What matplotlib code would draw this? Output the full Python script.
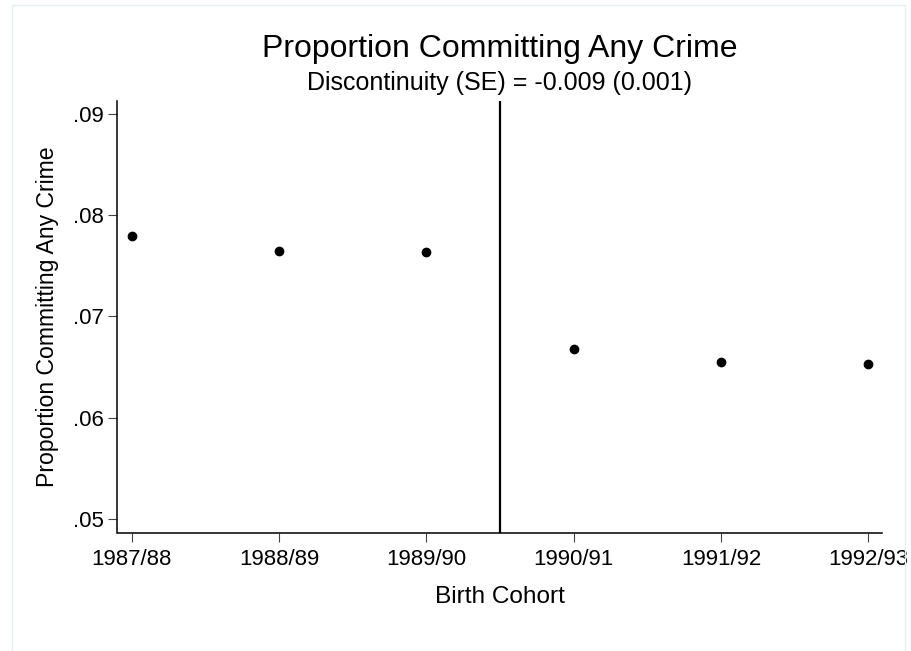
import matplotlib
matplotlib.use("Agg")
import matplotlib.pyplot as plt
from matplotlib.patches import Rectangle

cohorts = ["1987/88", "1988/89", "1989/90", "1990/91", "1991/92", "1992/93"]
proportion = [0.0779, 0.07646, 0.07636, 0.06682, 0.06556, 0.0653]
yticks = [0.05, 0.06, 0.07, 0.08, 0.09]
ytick_labels = [".05", ".06", ".07", ".08", ".09"]
cutoff = 2.5

plt.rcParams['font.family'] = ['Liberation Sans', 'DejaVu Sans']

W, H = 911, 651
fig = plt.figure(figsize=(W / 100, H / 100), dpi=100)
fig.patch.set_facecolor('white')

# light outer border
fig.add_artist(Rectangle((12 / W, -0.01), (905 - 12) / W, 1 - 5 / H + 0.01,
                         transform=fig.transFigure, fill=False,
                         edgecolor='#e6eef0', linewidth=1.0))

ax = fig.add_axes([117.5 / W, 1 - 533 / H, (882 - 117.5) / W, (533 - 100.7) / H])
x = list(range(len(cohorts)))
ax.plot(x, proportion, 'o', color='black', markersize=6, zorder=3)
ax.axvline(cutoff, color='black', linewidth=1.6)

ax.set_xlim(-0.0964, 5.093)
ax.set_ylim(0.04865, 0.09128)
ax.set_xticks(x)
ax.set_xticklabels(cohorts, fontsize=16)
ax.set_yticks(yticks)
ax.set_yticklabels(ytick_labels, fontsize=16)
ax.tick_params(axis='both', direction='out', length=6.5, width=0.8, color='#444444')
ax.tick_params(axis='x', pad=5)
ax.tick_params(axis='y', pad=3.5)
for s in ['top', 'right']:
    ax.spines[s].set_visible(False)
for s in ['left', 'bottom']:
    ax.spines[s].set_linewidth(1.1)

ax.set_ylabel("Proportion Committing Any Crime", fontsize=16.6)
ax.yaxis.set_label_coords((48 - 117.5) / (882 - 117.5), 0.5)
ax.yaxis.label.set_va('center')

cx = (117.5 + 882) / 2 / W
fig.text(cx, 1 - 603 / H, "Birth Cohort", fontsize=17.6, ha='center', va='baseline')
fig.text(cx, 1 - 57 / H, "Proportion Committing Any Crime", fontsize=23,
         ha='center', va='baseline')
fig.text(cx, 1 - 90 / H, "Discontinuity (SE) = -0.009 (0.001)", fontsize=18,
         ha='center', va='baseline')

fig.savefig("out.png", dpi=100, facecolor='white')
